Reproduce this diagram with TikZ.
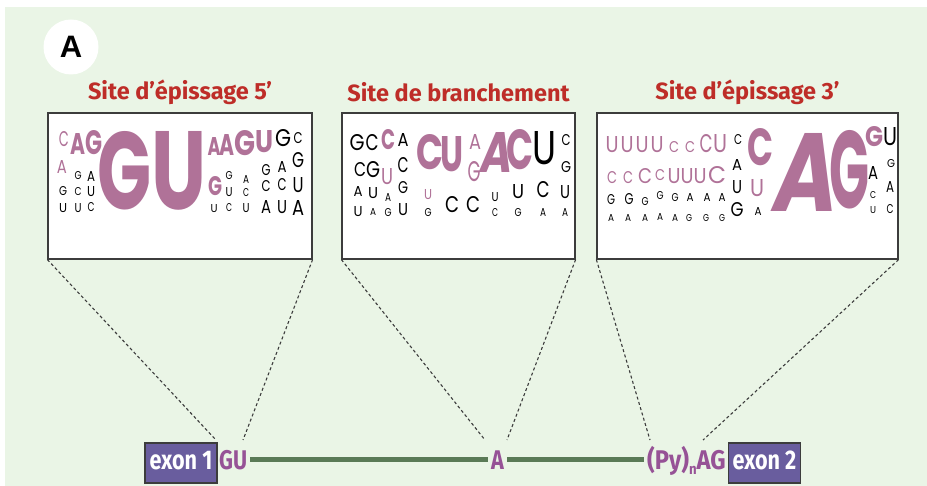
\documentclass[tikz,border=0pt]{standalone}
\usepackage{fontspec}
\usepackage{graphicx}
\setmainfont{Fira Sans}
\newfontfamily\logofont{Poppins}
\newfontfamily\slantfont{Poppins}[FakeSlant=0.2]
\newfontfamily\panelfont{Liberation Sans}

\definecolor{bggreen}{RGB}{234,245,230}
\definecolor{titlered}{RGB}{190,45,40}
\definecolor{logopurple}{RGB}{176,114,152}
\definecolor{seqpurple}{RGB}{150,82,150}
\definecolor{exonblue}{RGB}{105,93,158}
\definecolor{introngreen}{RGB}{90,122,86}
\definecolor{boxgray}{RGB}{60,60,60}

\newcommand{\nuc}[3]{\resizebox{#1pt}{#2pt}{#3}}
\newcommand{\cond}[1]{\scalebox{0.8}[1]{\fontsize{27}{28}\selectfont\bfseries #1}}

\tikzset{
  sitebox/.style={draw=boxgray, fill=white, line width=1.2pt, minimum height=146pt, inner sep=0pt},
  sitetitle/.style={text=titlered, inner sep=0pt, font={\fontsize{23.5}{24}\selectfont\bfseries}},
  purp/.style={inner sep=0pt, text=logopurple, font={\logofont\bfseries}},
  purpthin/.style={inner sep=0pt, text=logopurple, font={\logofont}},
  blk/.style={inner sep=0pt, text=black, font={\logofont}},
  exonbox/.style={draw=boxgray, fill=exonblue, line width=1.2pt, minimum width=72pt, minimum height=40pt,
    inner sep=0pt, text=white, text depth=6pt},
  seq/.style={text=seqpurple, inner xsep=3pt, inner ysep=0pt},
  zoomline/.style={boxgray, line width=1.1pt, dash pattern=on 3pt off 2.5pt},
  intron/.style={introngreen, line width=5pt},
  panel/.style={circle, fill=white, minimum size=55pt, inner sep=0pt, font={\panelfont\bfseries\fontsize{31}{31}\selectfont}}
}

\begin{document}
\begin{tikzpicture}[x=1pt,y=-1pt]
% background
\useasboundingbox (0,0) rectangle (927,486);
\fill[white] (0,0) rectangle (927,486);
\fill[bggreen] (5,7) rectangle (927,486);

% panel letter
\node[panel] (lettre) at (71,47) {A};

% boxes and titles
\node[sitebox, minimum width=264pt] (site5) at (180,186) {};
\node[sitebox, minimum width=233pt] (branch) at (458.5,186) {};
\node[sitebox, minimum width=301pt] (site3) at (747.5,186) {};
\node[sitetitle] (t5) at (180,92) {Site d’épissage 5’};
\node[sitetitle] (tb) at (458.5,92) {Site de branchement};
\node[sitetitle] (t3) at (747.5,92) {Site d’épissage 3’};

% 5' site logo
\foreach \x/\y/\w/\h/\nt [count=\i] in {78/144/15/21/A, 94/143/17/24/G,
  125/171/54/78/G, 179/171/55/78/U, 214/147/13/18/A, 227/145/15/21/A, 245/143/21/25/G,
  264/142/18/22/U, 215/186/14/19/G}
  \node[purp] (fp\i) at (\x,\y) {\nuc{\w}{\h}{\nt}};
\foreach \x/\y/\w/\h/\nt [count=\i] in {64/139/10/15/C, 62/167/10/13/A}
  \node[purpthin] (fq\i) at (\x,\y) {\nuc{\w}{\h}{\nt}};
\foreach \x/\y/\w/\h/\nt [count=\i] in {283/138/16/17/G, 298/138/9/11/C,
  266/170/9/11/G, 266/186/9/11/C, 266/207/10/13/A,
  282/167/9/11/A, 282/185/9/12/C, 282/207/10/13/U,
  298/160/12/15/G, 298/185/11/15/U, 298/208/12/15/A,
  229/176/7/8/G, 229/192/7/9/U, 229/208/6/8/C,
  246/180/6/8/A, 246/193/6/8/C, 246/208/7/9/U, 214/209/7/8/U,
  63/191/8/9/G, 63/208/8/9/U, 78/176/7/8/G, 78/192/7/8/C, 78/208/7/9/U,
  91/177/8/10/A, 91/192/8/10/U, 91/207/7/9/C}
  \node[blk] (fb\i) at (\x,\y) {\nuc{\w}{\h}{\nt}};

% branch site logo
\foreach \x/\y/\w/\h/\nt [count=\i] in {388/140/14/20/C,
  430/152/27/35/C, 452/154/23/35/U, 520/150/27/40/C}
  \node[purp] (bp\i) at (\x,\y) {\nuc{\w}{\h}{\nt}};
\foreach \x/\y/\w/\h/\nt [count=\i] in {387/177/12/16/U, 428/195/8/10/U, 475/142/12/15/A, 474/172/13/20/G}
  \node[purpthin] (bq\i) at (\x,\y) {\nuc{\w}{\h}{\nt}};
\node[purp, font={\slantfont\bfseries}] (bigA) at (495,153) {\nuc{32}{40}{A}};
\foreach \x/\y/\w/\h/\nt [count=\i] in {357/143/15/16/G, 372/143/13/16/C, 403/140/11/13/A,
  360/170/12/14/C, 373/170/14/16/G, 403/165/11/15/C,
  358/192/9/10/A, 373/193/10/11/U, 388/198/6/8/A, 403/188/10/12/G,
  358/212/9/10/U, 373/212/6/7/A, 388/213/7/8/G, 403/210/10/12/U, 428/213/7/8/G,
  544/148/24/33/U, 566/140/9/11/C, 566/167/10/11/G, 565/192/10/13/U, 565/213/6/8/A,
  452/205/14/16/C, 473/205/14/16/C, 495/197/7/9/U, 495/213/6/8/C,
  518/192/12/14/U, 518/213/7/8/G, 543/190/13/16/C, 543/213/6/8/A}
  \node[blk] (bb\i) at (\x,\y) {\nuc{\w}{\h}{\nt}};

% 3' site logo
\foreach \x/\y/\w/\h/\nt [count=\i] in {760/147/26/37/C, 849/170/40/78/G, 874/137/18/20/G}
  \node[purp] (tp\i) at (\x,\y) {\nuc{\w}{\h}{\nt}};
\foreach \x/\y/\w/\h/\nt [count=\i] in {612/145/13/16/U, 627/145/13/16/U, 642/145/13/16/U, 657/145/13/16/U,
  674/147/10/11/C, 690/147/10/11/C, 706/144/13/18/C, 720/144/14/18/U,
  612/178/10/12/C, 628/178/10/12/C, 645/176/14/15/C, 660/175/10/11/C,
  674/176/13/15/U, 687/176/13/15/U, 700/176/13/15/U, 717/175/18/17/C, 757/188/14/17/U}
  \node[purpthin] (tq\i) at (\x,\y) {\nuc{\w}{\h}{\nt}};
\node[purp, font={\slantfont\bfseries}] (bigAG) at (802,172) {\nuc{64}{78}{A}};
\foreach \x/\y/\w/\h/\nt [count=\i] in {738/140/8/10/C, 737/165/10/11/A, 737/187/10/13/U, 737/210/13/14/G,
  611/200/8/10/G, 629/199/9/11/G, 645/202/7/8/G, 660/196/7/8/G,
  675/198/7/8/G, 690/198/7/8/A, 707/198/7/8/A, 722/198/7/8/A,
  611/218/6/7/A, 628/218/6/7/A, 645/218/6/7/A, 660/217/6/7/A,
  675/218/6/7/A, 689/218/6/7/G, 706/218/6/7/G, 722/218/6/7/G, 758/212/7/8/A,
  890/137/14/18/U, 873/173/10/13/A, 891/164/8/8/G, 890/187/8/11/A,
  873/195/6/7/C, 873/210/6/7/U, 890/209/7/9/C}
  \node[blk] (tb\i) at (\x,\y) {\nuc{\w}{\h}{\nt}};

% pre-mRNA
\node[exonbox] (exon1) at (181,463) {\cond{exon 1}};
\node[seq, anchor=base west] (gu) at (216,469) {\cond{GU}};
\node[seq, anchor=base] (brA) at (497.5,469) {\cond{A}};
\node[seq, anchor=base east] (pyag) at (729,469) {\scalebox{1.1}[1]{\cond{(Py)\raisebox{-5pt}{\fontsize{15}{15}\selectfont n}AG}}};
\node[exonbox] (exon2) at (764.5,463) {\cond{exon 2}};
\draw[intron] (gu) -- (brA);
\draw[intron] (brA) -- (brA -| pyag.west);

% dashed zoom lines
\coordinate (d1) at (216,440);
\coordinate (d2) at (243,440);
\coordinate (d3) at (485,440);
\coordinate (d4) at (507,440);
\coordinate (d5) at (650,440);
\coordinate (d6) at (703,440);
\draw[zoomline] (site5.south west) -- (d1);
\draw[zoomline] (site5.south east) -- (d2);
\draw[zoomline] (branch.south west) -- (d3);
\draw[zoomline] (branch.south east) -- (d4);
\draw[zoomline] (site3.south west) -- (d5);
\draw[zoomline] (site3.south east) -- (d6);

\end{tikzpicture}
\end{document}
